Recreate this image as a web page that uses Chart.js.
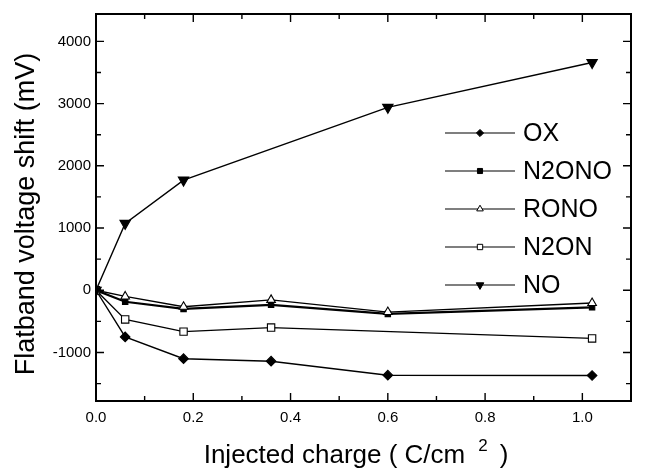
<!DOCTYPE html>
<html><head><meta charset="utf-8">
<script src="https://cdn.jsdelivr.net/npm/chart.js@4/dist/chart.umd.min.js"></script>
<style>html,body{margin:0;padding:0;background:#fff}#wrap{width:645px;height:472px;position:relative}</style>
</head><body><div id="wrap"><canvas id="c" width="645" height="472"></canvas></div>
<script>
// ---- data ----
const seriesNames = ['OX', 'N2ONO', 'RONO', 'N2ON', 'NO'];
const xFull = [0, 0.06, 0.18, 0.36, 0.6, 1.02];
const xN2ON = [0, 0.06, 0.18, 0.36, 1.02];
const xNO = [0, 0.06, 0.18, 0.6, 1.02];
const yOX = [0, -750, -1100, -1140, -1365, -1370];
const yN2ONO = [0, -185, -300, -235, -380, -275];
const yRONO = [0, -100, -265, -155, -350, -205];
const yN2ON = [0, -470, -665, -600, -775];
const yNO = [0, 1075, 1770, 2940, 3660];
const xTickValues = [0, 0.2, 0.4, 0.6, 0.8, 1.0];
const xTickLabels = ['0.0', '0.2', '0.4', '0.6', '0.8', '1.0'];
const xMinorValues = [0.1, 0.3, 0.5, 0.7, 0.9];
const yTickValues = [-1000, 0, 1000, 2000, 3000, 4000];
const yTickLabels = ['-1000', '0', '1000', '2000', '3000', '4000'];
const yMinorValues = [-1500, -500, 500, 1500, 2500, 3500];
const xTitleMain = 'Injected charge ( C/cm';
const xTitleSup = '2';
const xTitleEnd = ')';
const yTitle = 'Flatband voltage shift (mV)';

const FONT = "'Liberation Sans', Arial, Helvetica, sans-serif";
const pts = (xs, ys) => xs.map((x, i) => ({ x: x, y: ys[i] }));

const styles = [
  { pointStyle: 'rectRot', radius: 4.8, fill: '#000', lw: 1.4, rot: 0, lr: 3.6 },
  { pointStyle: 'rect', radius: 3.8, fill: '#000', lw: 2.1, rot: 0, lr: 3.6 },
  { pointStyle: 'triangle', radius: 5.0, fill: '#fff', lw: 1.3, rot: 0, lr: 3.8 },
  { pointStyle: 'rect', radius: 5.2, fill: '#fff', lw: 1.3, rot: 0, lr: 3.8 },
  { pointStyle: 'triangle', radius: 6.0, fill: '#000', lw: 1.4, rot: 180, lr: 4.4 }
];
const seriesData = [pts(xFull, yOX), pts(xFull, yN2ONO), pts(xFull, yRONO), pts(xN2ON, yN2ON), pts(xNO, yNO)];

const datasets = seriesNames.map((name, i) => ({
  label: name,
  data: seriesData[i],
  showLine: true,
  borderColor: '#000',
  borderWidth: styles[i].lw,
  backgroundColor: styles[i].fill,
  pointStyle: styles[i].pointStyle,
  pointRadius: styles[i].radius,
  pointRotation: styles[i].rot,
  pointBackgroundColor: styles[i].fill,
  pointBorderColor: '#000',
  pointBorderWidth: 1.1,
  tension: 0,
  order: 5 - i
}));

const frameTicks = {
  id: 'frameTicks',
  afterDatasetsDraw(chart) {
    const ctx = chart.ctx, a = chart.chartArea, xs = chart.scales.x, ys = chart.scales.y;
    ctx.save();
    ctx.strokeStyle = '#000';
    ctx.lineWidth = 1.4;
    ctx.beginPath();
    const major = 8, minor = 5;
    xTickValues.forEach(v => { const p = xs.getPixelForValue(v); ctx.moveTo(p, a.bottom); ctx.lineTo(p, a.bottom - major); ctx.moveTo(p, a.top); ctx.lineTo(p, a.top + major); });
    xMinorValues.forEach(v => { const p = xs.getPixelForValue(v); ctx.moveTo(p, a.bottom); ctx.lineTo(p, a.bottom - minor); ctx.moveTo(p, a.top); ctx.lineTo(p, a.top + minor); });
    yTickValues.forEach(v => { const p = ys.getPixelForValue(v); ctx.moveTo(a.left, p); ctx.lineTo(a.left + major, p); ctx.moveTo(a.right, p); ctx.lineTo(a.right - major, p); });
    yMinorValues.forEach(v => { const p = ys.getPixelForValue(v); ctx.moveTo(a.left, p); ctx.lineTo(a.left + minor, p); ctx.moveTo(a.right, p); ctx.lineTo(a.right - minor, p); });
    ctx.stroke();
    ctx.lineWidth = 2;
    ctx.strokeRect(a.left, a.top, a.right - a.left, a.bottom - a.top);
    ctx.restore();
  }
};

const axisTitles = {
  id: 'axisTitles',
  afterDraw(chart) {
    const ctx = chart.ctx;
    ctx.save();
    ctx.fillStyle = '#000';
    // y title, rotated
    ctx.font = '27px ' + FONT;
    ctx.textAlign = 'center';
    ctx.textBaseline = 'alphabetic';
    ctx.translate(34, 214);
    ctx.rotate(-Math.PI / 2);
    ctx.fillText(yTitle, 0, 0);
    ctx.setTransform(1, 0, 0, 1, 0, 0);
    // x title with superscript
    ctx.textAlign = 'left';
    ctx.font = '26px ' + FONT;
    const wMain = ctx.measureText(xTitleMain).width;
    const gap1 = 13, gap2 = 12;
    ctx.font = '17px ' + FONT;
    const wSup = ctx.measureText(xTitleSup).width;
    ctx.font = '26px ' + FONT;
    const wEnd = ctx.measureText(xTitleEnd).width;
    const total = wMain + gap1 + wSup + gap2 + wEnd;
    let x = 356 - total / 2;
    const base = 463;
    ctx.fillText(xTitleMain, x, base);
    x += wMain + gap1;
    ctx.font = '17px ' + FONT;
    ctx.fillText(xTitleSup, x, base - 12);
    x += wSup + gap2;
    ctx.font = '26px ' + FONT;
    ctx.fillText(xTitleEnd, x, base);
    ctx.restore();
  }
};

const lineLegend = {
  id: 'lineLegend',
  afterDraw(chart) {
    const ctx = chart.ctx;
    const x0 = 445, x1 = 515, tx = 523, y0 = 133, dy = 38;
    ctx.save();
    chart.data.datasets.forEach((ds, i) => {
      const y = y0 + i * dy;
      ctx.strokeStyle = '#000';
      ctx.lineWidth = 1.2;
      ctx.beginPath(); ctx.moveTo(x0, y); ctx.lineTo(x1, y); ctx.stroke();
      ctx.fillStyle = ds.pointBackgroundColor;
      ctx.lineWidth = 1;
      Chart.helpers.drawPoint(ctx, { pointStyle: ds.pointStyle, rotation: ds.pointRotation, radius: styles[i].lr, borderWidth: 1 }, (x0 + x1) / 2, y);
      ctx.fillStyle = '#000';
      ctx.font = '25px ' + FONT;
      ctx.textBaseline = 'middle';
      ctx.textAlign = 'left';
      ctx.fillText(ds.label, tx, y + 1);
    });
    ctx.restore();
  }
};

new Chart(document.getElementById('c'), {
  type: 'scatter',
  data: { datasets: datasets },
  options: {
    responsive: false,
    animation: false,
    devicePixelRatio: 1,
    layout: { padding: { top: 9, right: 14, left: 0, bottom: 0 } },
    plugins: { legend: { display: false }, tooltip: { enabled: false } },
    scales: {
      x: {
        type: 'linear', min: 0, max: 1.1,
        afterBuildTicks: s => { s.ticks = xTickValues.map(v => ({ value: v })); },
        afterFit: s => { s.height = 71; },
        grid: { display: false, drawTicks: false },
        border: { display: false },
        ticks: { autoSkip: false, maxRotation: 0, padding: 8, color: '#000', font: { family: FONT, size: 15 },
                 callback: (v, i) => xTickLabels[i] },
        title: { display: false }
      },
      y: {
        type: 'linear', min: -1780, max: 4440,
        afterBuildTicks: s => { s.ticks = yTickValues.map(v => ({ value: v })); },
        afterFit: s => { s.width = 96; },
        grid: { display: false, drawTicks: false },
        border: { display: false },
        ticks: { padding: 5, color: '#000', font: { family: FONT, size: 15 },
                 callback: (v, i) => yTickLabels[i] },
        title: { display: false }
      }
    }
  },
  plugins: [frameTicks, axisTitles, lineLegend]
});
</script>
</body></html>
